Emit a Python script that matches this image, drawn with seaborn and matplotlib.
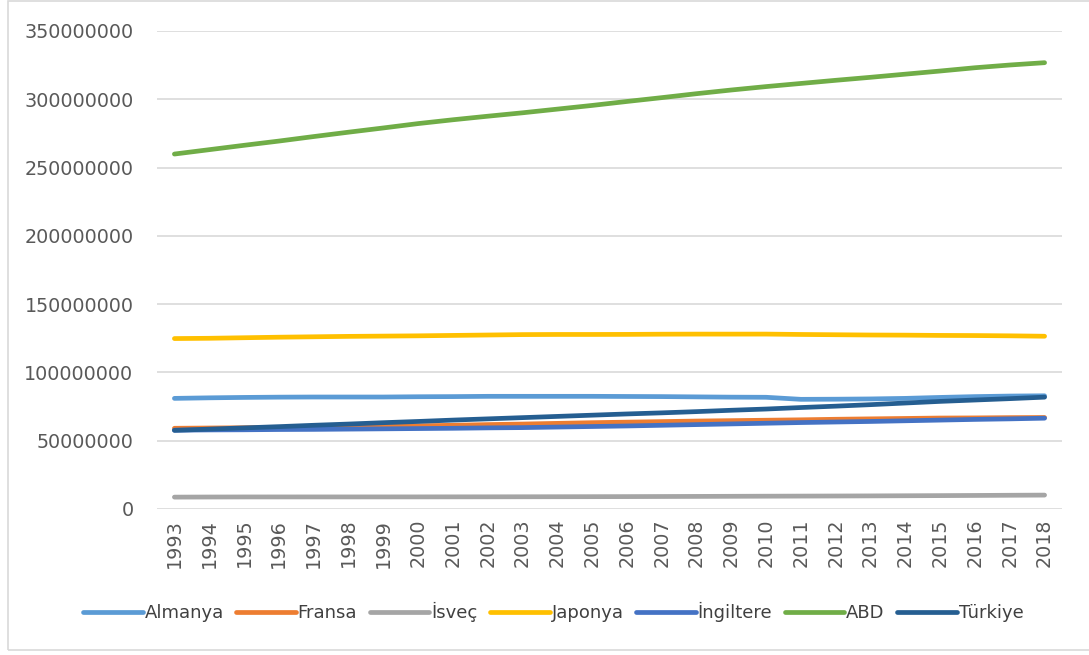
import matplotlib
matplotlib.use('Agg')
import matplotlib.pyplot as plt
import seaborn as sns
import pandas as pd
from matplotlib.patches import Rectangle

years = list(range(1993, 2019))

almanya = [81.0, 81.4, 81.7, 81.9, 82.0, 82.0, 82.0, 82.2, 82.3, 82.5, 82.5, 82.5, 82.5,
           82.4, 82.3, 82.1, 81.9, 81.8, 80.3, 80.4, 80.6, 81.0, 81.7, 82.3, 82.7, 82.9]
fransa = [59.1, 59.3, 59.5, 59.7, 59.9, 60.1, 60.4, 60.9, 61.3, 61.8, 62.2, 62.7, 63.2,
          63.6, 64.0, 64.4, 64.7, 65.0, 65.3, 65.7, 66.0, 66.3, 66.6, 66.7, 66.9, 67.0]
isvec = [8.70, 8.78, 8.83, 8.84, 8.85, 8.85, 8.86, 8.87, 8.90, 8.92, 8.96, 8.99, 9.03,
         9.08, 9.15, 9.22, 9.30, 9.38, 9.45, 9.52, 9.60, 9.70, 9.80, 9.92, 10.06, 10.18]
japonya = [124.8, 125.0, 125.4, 125.8, 126.1, 126.4, 126.6, 126.8, 127.1, 127.4, 127.7, 127.8, 127.8,
           127.85, 128.0, 128.06, 128.05, 128.07, 127.8, 127.6, 127.4, 127.3, 127.1, 127.0, 126.8, 126.5]
ingiltere = [57.7, 57.9, 58.0, 58.2, 58.3, 58.5, 58.7, 58.9, 59.1, 59.4, 59.6, 60.0, 60.4,
             60.8, 61.3, 61.8, 62.3, 62.8, 63.3, 63.7, 64.1, 64.6, 65.1, 65.6, 66.0, 66.5]
abd = [259.9, 263.1, 266.3, 269.4, 272.7, 275.9, 279.0, 282.2, 285.0, 287.6, 290.1, 292.8, 295.5,
       298.4, 301.2, 304.1, 306.8, 309.3, 311.6, 313.9, 316.1, 318.4, 320.7, 323.1, 325.1, 326.8]
turkiye = [57.6, 58.5, 59.4, 60.3, 61.3, 62.2, 63.2, 64.1, 65.1, 66.0, 66.9, 67.8, 68.7,
           69.6, 70.4, 71.3, 72.3, 73.2, 74.3, 75.3, 76.4, 77.6, 78.8, 79.8, 80.8, 81.9]

series = {
    'Almanya': almanya,
    'Fransa': fransa,
    'İsveç': isvec,
    'Japonya': japonya,
    'İngiltere': ingiltere,
    'ABD': abd,
    'Türkiye': turkiye,
}
colors = ['#5B9BD5', '#ED7D31', '#A5A5A5', '#FFC000', '#4472C4', '#70AD47', '#255E91']

rows = []
for name, vals in series.items():
    for y, v in zip(years, vals):
        rows.append({'yil': y, 'nufus': v * 1e6, 'ulke': name})
df = pd.DataFrame(rows)

sns.set_style('white')
plt.rcParams['font.family'] = ['DejaVu Sans']

fig = plt.figure(figsize=(10.89, 6.55), dpi=100)
ax = fig.add_axes([157 / 1089, 1 - 509 / 655, (1062 - 157) / 1089, (509 - 31) / 655])

sns.lineplot(data=df, x='yil', y='nufus', hue='ulke', palette=colors,
             linewidth=3.4, ax=ax, legend=False, solid_capstyle='round')

ax.set_xlim(1992.5, 2018.5)
ax.set_ylim(0, 350e6)
ax.set_yticks(range(0, 350000001, 50000000))
ax.set_yticklabels([str(v) for v in range(0, 350000001, 50000000)])
ax.set_xticks(years)
ax.set_xticklabels([str(y) for y in years], rotation=90)
ax.tick_params(axis='both', length=0, labelsize=13.8, colors='#595959')
ax.tick_params(axis='y', pad=17)
ax.tick_params(axis='x', pad=7)
ax.grid(axis='y', color='#D9D9D9', linewidth=1.2)
ax.set_axisbelow(True)
for s in ax.spines.values():
    s.set_visible(False)
ax.set_xlabel('')
ax.set_ylabel('')

handles = [plt.Line2D([0], [0], color=c, linewidth=3.4, solid_capstyle='round') for c in colors]
fig.legend(handles, list(series.keys()), loc='center', bbox_to_anchor=(0.508, 1 - 612 / 655),
           ncol=7, frameon=False, fontsize=13, handlelength=3.3, handletextpad=0.1,
           columnspacing=0.7, labelcolor='#404040')

fig.patches.append(Rectangle((8 / 1089, 5 / 655), 1.0, 1 - 6 / 655, transform=fig.transFigure,
                             fill=False, edgecolor='#D9D9D9', linewidth=1.2))

fig.savefig('out.png', dpi=100)
